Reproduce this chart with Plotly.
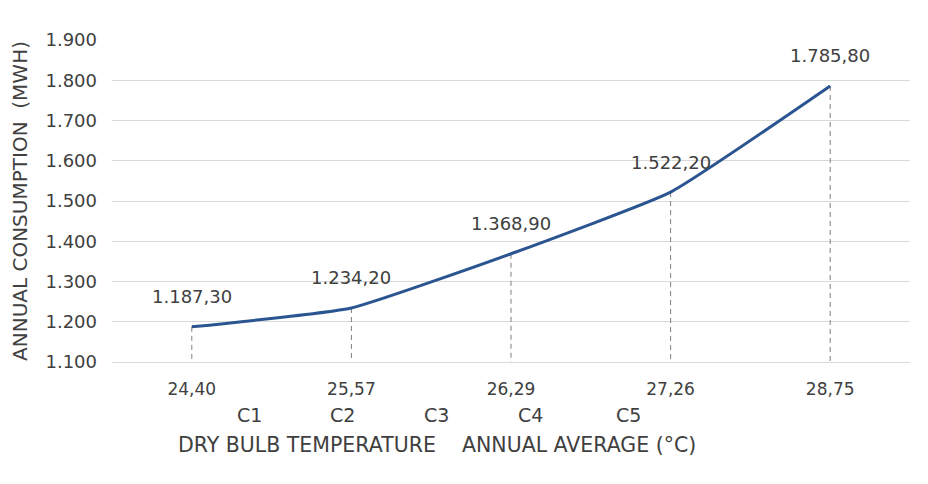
import plotly.graph_objects as go

categories = ["24,40", "25,57", "26,29", "27,26", "28,75"]
consumption = [1187.30, 1234.20, 1368.90, 1522.20, 1785.80]
case_labels = ["C1", "C2", "C3", "C4", "C5"]
y_min, y_max, y_step = 1100, 1900, 100

FONT = "DejaVu Sans, Liberation Sans, Arial, sans-serif"
TXT = "#404040"

# plot area in screen pixels (page has an 8px body margin)
PL, PR, PT, PB = 112, 910, 40, 362


def px_x(px):
    return (px - PL) / (PR - PL)


def px_y(py):
    return (PB - py) / (PB - PT)


fig = go.Figure()

# dashed drop lines from each point to the axis
dx, dy = [], []
for c, v in zip(categories, consumption):
    dx += [c, c, None]
    dy += [v, y_min, None]
fig.add_trace(go.Scatter(x=dx, y=dy, mode="lines",
                         line=dict(color="#7f7f7f", width=1, dash="5px,4px"),
                         hoverinfo="skip", showlegend=False))

fig.add_trace(go.Scatter(x=categories, y=consumption, mode="lines",
                         line=dict(color="#2B5590", width=3, shape="spline", smoothing=0.4),
                         showlegend=False))

for c, v in zip(categories, consumption):
    fig.add_annotation(x=c, y=v, xref="x", yref="y", showarrow=False,
                       text=f"{v:,.2f}".replace(",", "X").replace(".", ",").replace("X", "."),
                       yshift=30, font=dict(family=FONT, size=18, color=TXT))

# case labels and axis title below the plot
case_x = [249, 342, 436, 530, 628]
for lab, px in zip(case_labels, case_x):
    fig.add_annotation(x=px_x(px), y=px_y(415), xref="paper", yref="paper",
                       showarrow=False, text=lab, xanchor="center", yanchor="middle",
                       font=dict(family=FONT, size=19, color=TXT))
fig.add_annotation(x=px_x(437), y=px_y(445), xref="paper", yref="paper",
                   showarrow=False,
                   text="DRY BULB TEMPERATURE    ANNUAL AVERAGE (°C)",
                   xanchor="center", yanchor="middle",
                   font=dict(family=FONT, size=20.5, color=TXT))

fig.update_layout(
    width=928, height=484,
    margin=dict(l=PL - 8, r=928 - (PR - 8), t=PT - 8, b=484 - (PB - 8)),
    paper_bgcolor="white", plot_bgcolor="white",
    separators=",.",
    font=dict(family=FONT, size=17, color=TXT),
    xaxis=dict(type="category", range=[-0.5, 4.5], showgrid=False, automargin=False,
               showline=True, linecolor="#d9d9d9", linewidth=1,
               ticks="", tickfont=dict(size=17, color=TXT), ticklabelstandoff=12),
    yaxis=dict(range=[y_min, y_max], dtick=y_step, tick0=y_min, tickformat=",d",
               automargin=False,
               showgrid=True, gridcolor="#d9d9d9", gridwidth=1, zeroline=False,
               showline=False, ticks="", tickfont=dict(size=18, color=TXT),
               ticklabelstandoff=14,
               title=dict(text="ANNUAL CONSUMPTION  (MWH)", standoff=14,
                          font=dict(size=20, color=TXT))),
)

fig.write_html("out.html")
